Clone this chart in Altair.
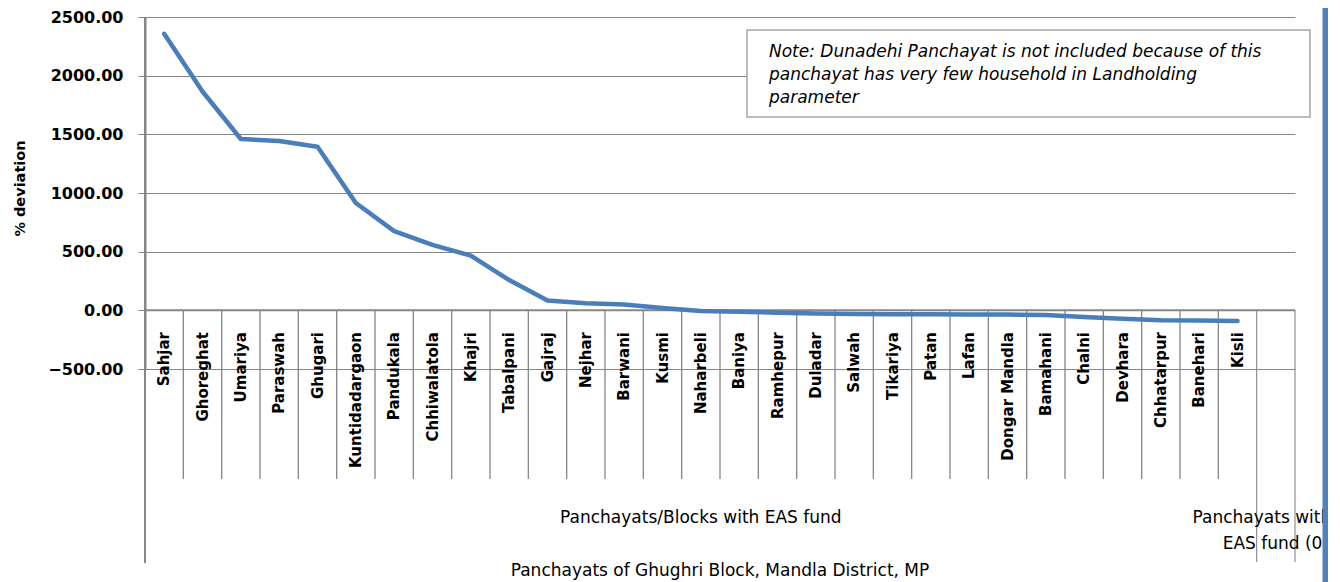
import altair as alt
import pandas as pd

# ---- data ----
panchayats = ["Sahjar", "Ghoreghat", "Umariya", "Paraswah", "Ghugari", "Kuntidadargaon",
              "Pandukala", "Chhiwalatola", "Khajri", "Tabalpani", "Gajraj", "Nejhar",
              "Barwani", "Kusmi", "Naharbeli", "Baniya", "Ramhepur", "Duladar", "Salwah",
              "Tikariya", "Patan", "Lafan", "Dongar Mandla", "Bamahani", "Chalni",
              "Devhara", "Chhatarpur", "Banehari", "Kisli"]
deviation = [2357, 1865, 1460, 1443, 1395, 915, 675, 558, 466, 258, 83, 60, 50, 20, -5,
             -12, -20, -26, -31, -33, -34, -36, -36, -40, -57, -71, -84, -87, -90]
group_labels = ["Panchayats/Blocks with EAS fund", "Panchayats without\nEAS fund (0)"]
group_sizes = [29, 1]
outer_label = "Panchayats of Ghughri Block, Mandla District, MP"
note_lines = ["Note: Dunadehi Panchayat is not included because of this",
              "panchayat has very few household in Landholding",
              "parameter"]
y_ticks = [-500, 0, 500, 1000, 1500, 2000, 2500]
y_title = "% deviation"

# ---- tables built from the lists ----
n_slots = sum(group_sizes)
df = pd.DataFrame({"pos": [i + 0.5 for i in range(len(panchayats))],
                   "name": panchayats, "value": deviation})
starts = [sum(group_sizes[:k]) for k in range(len(group_sizes))]
groups = pd.DataFrame({"pos": [s + n / 2 for s, n in zip(starts, group_sizes)],
                       "label": group_labels})
seps = pd.DataFrame({"pos": list(range(n_slots + 1)), "zero": 0})
short_seps = seps[(seps.pos > 0) & (seps.pos < starts[-1])].reset_index(drop=True)
long_seps = seps[seps.pos >= starts[-1]].reset_index(drop=True)
left_sep = seps[seps.pos == 0].reset_index(drop=True)
outer = pd.DataFrame({"pos": [n_slots / 2], "label": [outer_label]})
baseline_df = pd.DataFrame({"x0": [0], "x1": [n_slots], "zero": [0]})
note_df = pd.DataFrame({"note": ["\n".join(note_lines)]})
one = pd.DataFrame({"k": [0]})

FONT = "DejaVu Sans"
GRAY = "#868686"
xs = alt.Scale(domain=[0, n_slots], nice=False, zero=False)
ys = alt.Scale(domain=[y_ticks[0], y_ticks[-1]], nice=False, zero=False)

yaxis = alt.Axis(values=y_ticks, format=".2f", labelFont=FONT, labelFontWeight="bold",
                 labelFontSize=16, labelColor="black", tickSize=7, tickColor=GRAY,
                 tickWidth=1, domainColor=GRAY, domainWidth=2, gridColor=GRAY,
                 gridWidth=1, labelPadding=15, title=y_title, titleFont=FONT,
                 titleFontSize=14.5, titleFontWeight="bold", titleColor="black",
                 titleAngle=270, titleX=-125, titleY=171, titleAlign="center",
                 titleBaseline="middle")

line = alt.Chart(df).mark_line(color="#4a7ebb", strokeWidth=4.5, strokeJoin="round",
                               strokeCap="round").encode(
    x=alt.X("pos:Q", scale=xs, axis=None),
    y=alt.Y("value:Q", scale=ys, axis=yaxis),
)

zero_line = alt.Chart(baseline_df).mark_rule(color=GRAY, strokeWidth=2).encode(
    x=alt.X("x0:Q", scale=xs, axis=None), x2="x1:Q",
    y=alt.Y("zero:Q", scale=ys, axis=yaxis))

short_rules = alt.Chart(short_seps).mark_rule(color=GRAY, strokeWidth=1.3).encode(
    x=alt.X("pos:Q", scale=xs, axis=None),
    y=alt.Y("zero:Q", scale=ys, axis=yaxis), y2=alt.value(462))

long_rules = alt.Chart(long_seps).mark_rule(color=GRAY, strokeWidth=1.1).encode(
    x=alt.X("pos:Q", scale=xs, axis=None),
    y=alt.Y("zero:Q", scale=ys, axis=yaxis), y2=alt.value(545))

left_rule = alt.Chart(left_sep).mark_rule(color=GRAY, strokeWidth=2).encode(
    x=alt.X("pos:Q", scale=xs, axis=None), y=alt.value(0), y2=alt.value(546))

cat_labels = alt.Chart(df).mark_text(angle=270, align="right", baseline="middle",
                                     font=FONT, fontWeight="bold", fontSize=15,
                                     color="black").encode(
    x=alt.X("pos:Q", scale=xs, axis=None), y=alt.value(315), text="name:N")

grp_labels = alt.Chart(groups).mark_text(align="center", baseline="alphabetic",
                                         font=FONT, fontSize=17, color="black",
                                         lineBreak="\n", lineHeight=26).encode(
    x=alt.X("pos:Q", scale=xs, axis=None), y=alt.value(506), text="label:N")

outer_text = alt.Chart(outer).mark_text(align="center", baseline="alphabetic",
                                        font=FONT, fontSize=17, color="black").encode(
    x=alt.X("pos:Q", scale=xs, axis=None), y=alt.value(559), text="label:N")

note_box = alt.Chart(one).mark_rect(fill="white", stroke="#a6a6a6", strokeWidth=1.5).encode(
    x=alt.value(602), x2=alt.value(1165), y=alt.value(13), y2=alt.value(100))

note_text = alt.Chart(note_df).mark_text(align="left", baseline="alphabetic", font=FONT,
                                         fontSize=17, fontStyle="italic", color="black",
                                         lineBreak="\n", lineHeight=23).encode(
    x=alt.value(624), y=alt.value(40), text="note:N")

cover = alt.Chart(one).mark_rect(fill="white").encode(
    x=alt.value(1183), x2=alt.value(1200), y=alt.value(470), y2=alt.value(566))

blue_bar = alt.Chart(one).mark_rect(fill="#4f81bd").encode(
    x=alt.value(1177.5), x2=alt.value(1183), y=alt.value(-17), y2=alt.value(566))

chart = alt.layer(
    zero_line, short_rules, long_rules, left_rule, line, cat_labels, grp_labels,
    outer_text, note_box, note_text, cover, blue_bar
).properties(
    width=1150, height=352,
    padding={"left": 137, "top": 9, "right": 37, "bottom": 213},
    autosize=alt.AutoSizeParams(type="none"),
    background="white",
).configure_view(stroke=None)

chart.save("out.html", embed_options={"renderer": "svg", "actions": False})
